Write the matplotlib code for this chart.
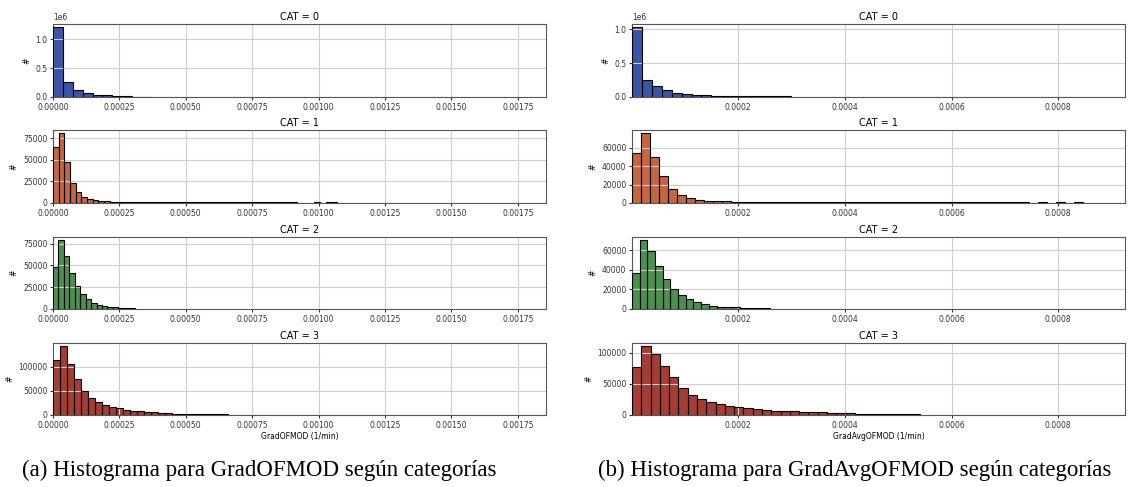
import numpy as np
import matplotlib
matplotlib.use("Agg")
import matplotlib.pyplot as plt

# ---- data ----
cats = ["CAT = 0", "CAT = 1", "CAT = 2", "CAT = 3"]
colors = ["#3a55a3", "#c4663f", "#4a9150", "#a63d35"]

# GradOFMOD : bin width per category and counts per bin (first bins)
a_width = [0.0000372, 0.0000214, 0.0000205, 0.0000264]
a_counts = [
    [1200000, 258000, 117000, 74000, 31000, 30000, 15000, 10000, 8000, 6000],
    [64600, 80800, 47700, 23800, 12300, 6900, 4200, 3000, 2300, 1900,
     1200, 1100, 1000, 950, 900, 880, 860, 840, 820, 800, 790, 780, 770,
     760, 750, 740, 730, 720, 710, 700, 690, 680, 670, 660, 650, 640, 630,
     620, 610, 600, 600, 600, 600, 0, 0, 0, 700, 0, 700, 700],
    [47700, 78800, 61400, 40900, 26900, 17400, 11000, 7200, 4500, 3000,
     2300, 1900, 1100, 900, 800],
    [114000, 141500, 104800, 74000, 50300, 34700, 25900, 21000, 16300,
     14300, 10200, 8200, 7500, 6100, 5400, 4100, 3400, 2400, 2000, 1900,
     1800, 1700, 1600, 1500, 1400],
]

# GradAvgOFMOD
b_width = [0.0000186, 0.0000169, 0.0000144, 0.0000174]
b_counts = [
    [1025000, 245000, 157000, 98000, 59000, 44000, 25000, 24000, 12000,
     11000, 10000, 10000, 9000, 9000, 8000, 8000],
    [54600, 75400, 50400, 28900, 15700, 8600, 5000, 3200, 2100, 2100, 1800,
     1100, 1000, 950, 900, 880, 860, 840, 820, 800, 790, 780, 770, 760,
     750, 740, 730, 720, 710, 700, 690, 680, 670, 660, 650, 640, 630, 620,
     610, 600, 600, 600, 600, 600, 0, 700, 0, 700, 0, 700],
    [36600, 70100, 59700, 44300, 30200, 20800, 14100, 10100, 6700, 5400,
     3000, 2000, 2000, 2000, 1300, 1000, 900, 800],
    [76700, 110000, 97900, 78800, 60800, 43400, 32800, 25900, 20600, 16900,
     14800, 13200, 11600, 10000, 8500, 6900, 6300, 5800, 5300, 4800, 4200,
     3700, 3200, 2600, 1800, 1700, 1600, 1500, 1400, 1300, 1200],
]

a_xlim = (0, 0.001856)
b_xlim = (0.000001, 0.000925)
a_ticks = [0, 0.00025, 0.0005, 0.00075, 0.001, 0.00125, 0.0015, 0.00175]
b_ticks = [0.0002, 0.0004, 0.0006, 0.0008]

W, H = 1139, 487
fig = plt.figure(figsize=(W / 100, H / 100), dpi=100)

rows = [(24, 97), (130, 203), (237, 309), (343, 415)]


def panel(x0, x1, widths, counts, xlim, ticks, tickfmt, xlabel):
    for i, (top, bot) in enumerate(rows):
        ax = fig.add_axes([x0 / W, 1 - bot / H, (x1 - x0) / W, (bot - top) / H])
        c = np.array(counts[i], dtype=float)
        edges = np.arange(len(c)) * widths[i] + (xlim[0] if xlim[0] > 0 else 0)
        ax.bar(edges, c, width=widths[i], align="edge", color=colors[i],
               linewidth=0, zorder=1)
        # outlines drawn again above grid and spine so the thin tail stays visible
        nz = c > 0
        ax.bar(edges[nz], c[nz], width=widths[i], align="edge", fill=False,
               edgecolor="black", linewidth=0.8, zorder=3)
        ax.grid(True, color="#cfcfcf", linewidth=0.8)
        ax.set_xlim(*xlim)
        ax.set_ylim(0, c.max() * 1.05)
        ax.set_xticks(ticks)
        ax.set_xticklabels([tickfmt.format(t) for t in ticks])
        ax.tick_params(labelsize=5.5, length=2.5, pad=1.5, colors="#333333")
        ax.set_ylabel("#", fontsize=5.5, labelpad=3)
        ax.set_title(cats[i], fontsize=7, pad=3)
        for s in ax.spines.values():
            s.set_color("#555555")
        if i == 0:
            ax.ticklabel_format(axis="y", style="sci", scilimits=(6, 6))
            ax.yaxis.get_offset_text().set_fontsize(5.5)
        if i == 3:
            ax.set_xlabel(xlabel, fontsize=5.5, labelpad=2)


panel(53, 546, a_width, a_counts, a_xlim, a_ticks, "{:.5f}", "GradOFMOD (1/min)")
panel(632, 1125, b_width, b_counts, b_xlim, b_ticks, "{:.4f}", "GradAvgOFMOD (1/min)")

fig.text(259 / W, 1 - 470 / H, "(a) Histograma para GradOFMOD según categorías",
         ha="center", va="center", fontsize=16.5, family="Liberation Serif")
fig.text(855 / W, 1 - 470 / H, "(b) Histograma para GradAvgOFMOD según categorías",
         ha="center", va="center", fontsize=16.5, family="Liberation Serif")

fig.savefig("out.png", dpi=100)
